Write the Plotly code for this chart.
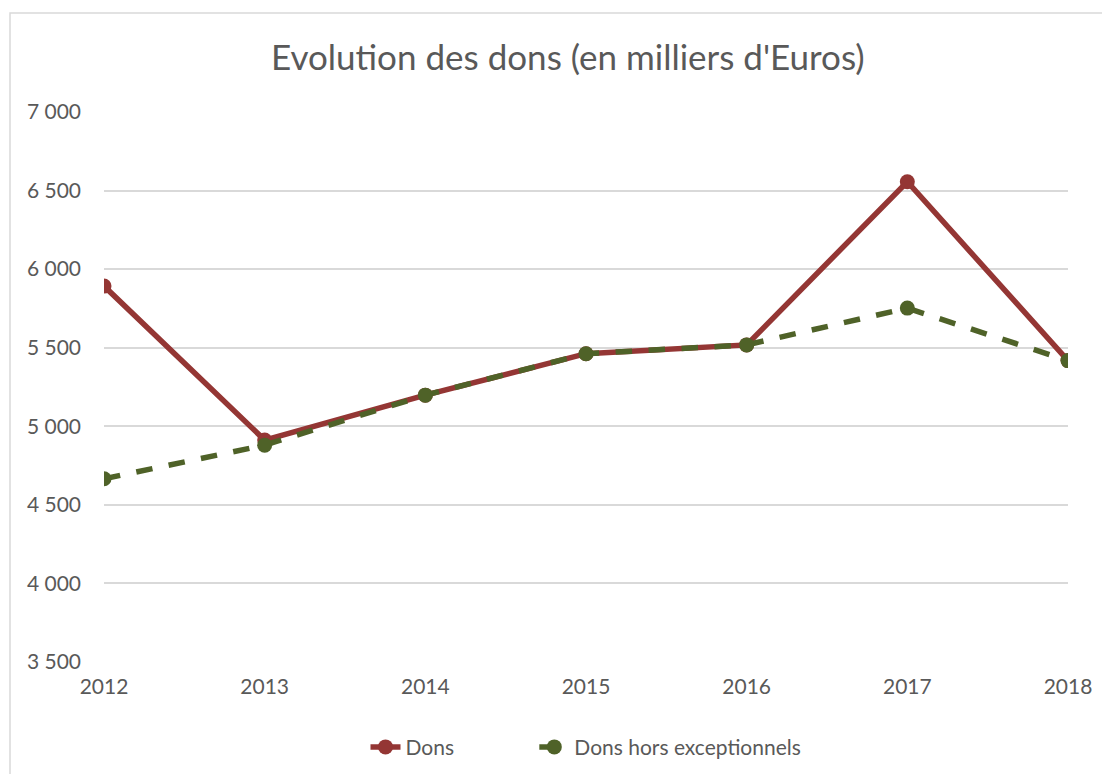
import plotly.graph_objects as go

years = ["2012", "2013", "2014", "2015", "2016", "2017", "2018"]
dons = [5892, 4912, 5198, 5462, 5518, 6556, 5418]
dons_hors_exc = [4666, 4880, 5198, 5462, 5518, 5752, 5418]
series_names = ["Dons", "Dons hors exceptionnels"]

RED = "#943634"
GREEN = "#4F6228"
TXT = "#595959"
FONT = "Lato, 'Open Sans', sans-serif"
PAD = "\u00a0" * 14

fig = go.Figure()
fig.add_trace(go.Scatter(
    x=years, y=dons, name=series_names[0] + PAD, mode="lines+markers",
    line=dict(color=RED, width=5.5),
    marker=dict(color=RED, size=15),
))
fig.add_trace(go.Scatter(
    x=years, y=dons_hors_exc, name=series_names[1], mode="lines+markers",
    line=dict(color=GREEN, width=5.5, dash="dash"),
    marker=dict(color=GREEN, size=15),
))

fig.update_layout(
    width=1102, height=766,
    margin=dict(l=96, r=42, t=104, b=112, autoexpand=False),
    paper_bgcolor="white", plot_bgcolor="white",
    separators=", ",
    font=dict(family=FONT, color=TXT, size=21),
    title=dict(text="Evolution des dons (en milliers d'Euros)",
               x=0.508, xanchor="center", y=0.935, yanchor="middle",
               font=dict(size=35, color=TXT, family=FONT)),
    xaxis=dict(type="category", range=[0, 6], showgrid=False, zeroline=False,
               showline=False, ticks="", tickfont=dict(size=21, color=TXT),
               ticklabelstandoff=10),
    yaxis=dict(range=[3500, 7000], dtick=500, tickformat=",d",
               showgrid=True, gridcolor="#D9D9D9", gridwidth=1.5,
               zeroline=False, showline=False, ticks="",
               tickfont=dict(size=21, color=TXT), ticklabelstandoff=22),
    legend=dict(orientation="h", x=0.5, xanchor="center", y=-0.155, yanchor="middle",
                font=dict(size=21, color=TXT), bgcolor="rgba(0,0,0,0)"),
    showlegend=True,
)

fig.add_shape(type="rect", xref="paper", yref="paper",
              x0=-0.0975, x1=1.2, y0=-0.4, y1=1.18,
              line=dict(color="#D9D9D9", width=1.5), fillcolor="rgba(0,0,0,0)", layer="below")

fig.write_html("out.html")
